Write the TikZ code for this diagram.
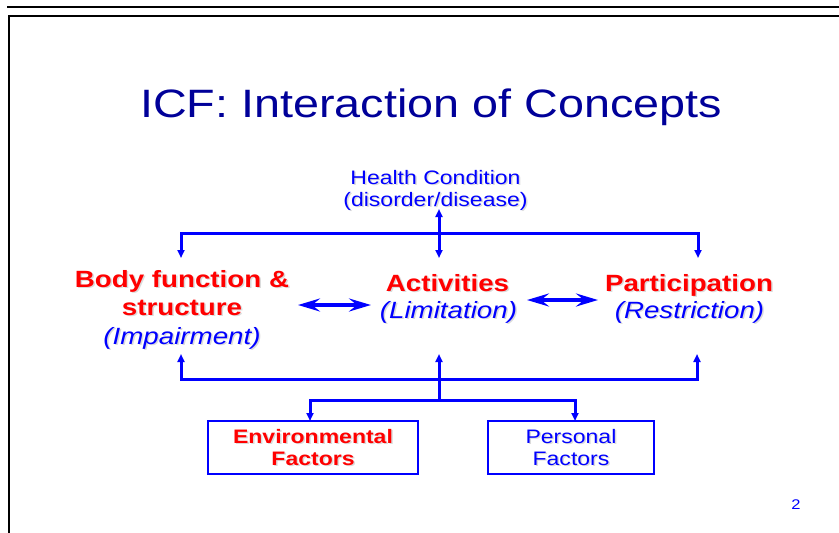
\documentclass[tikz,border=0pt]{standalone}
\usepackage{fontspec}
\setmainfont{Liberation Sans}[FakeStretch=1.18]
\usetikzlibrary{arrows.meta}

\definecolor{icfblue}{RGB}{0,0,255}
\definecolor{icfred}{RGB}{255,0,0}
\definecolor{icfnavy}{RGB}{0,0,153}
\colorlet{shade}{black!14}

% one line of text with a soft drop shadow, placed by its baseline
\newcommand\shline[4]{%
  \node[txt, #3, text=shade] (#1s) at ([shift={(1.5,1.5)}]#2) {#4};
  \node[txt, #3] (#1) at (#2) {#4};}

\begin{document}
\begin{tikzpicture}[x=1pt, y=-1pt,
  txt/.style={inner sep=0pt, anchor=base},
  hot/.style={text=icfred, font=\fontsize{23.5}{28}\selectfont\bfseries},
  hotsmall/.style={text=icfred, font=\fontsize{19.5}{23}\selectfont\bfseries},
  qual/.style={text=icfblue, font=\fontsize{23.5}{28}\selectfont\itshape},
  plain/.style={text=icfblue, font=\fontsize{19.5}{23}\selectfont},
  conn/.style={draw=icfblue, line width=3pt},
  tip/.style={-{Triangle[length=8pt,width=7pt]}},
  twotip/.style={{Triangle[length=8pt,width=7pt]}-{Triangle[length=8pt,width=7pt]}},
  link/.style={draw=icfblue, line width=3.5pt,
    {Stealth[length=22pt,width=13pt,inset=8pt]}-{Stealth[length=22pt,width=13pt,inset=8pt]}},
  factorbox/.style={draw=icfblue, line width=1.2pt, minimum height=53pt, inner sep=0pt}
]
\useasboundingbox (0,0) rectangle (839,533);

% slide frame
\draw[line width=2pt] (7,7) -- (839,7);
\draw[line width=2pt] (9,533) -- (9,16) -- (839,16);

% title
\node[txt, text=icfnavy, font=\fontsize{39.6}{44}\selectfont] (title) at (431,117)
  {ICF: Interaction of Concepts};

% health condition
\shline{hc1}{435.5,184}{plain}{Health Condition}
\shline{hc2}{435.5,206}{plain}{(disorder/disease)}

% the three components
\shline{body1}{182,287}{hot}{Body function \&}
\shline{body2}{182,315}{hot}{structure}
\shline{body3}{182,344}{qual}{(Impairment)}
\shline{act1}{447.5,291}{hot}{Activities}
\shline{act2}{448.5,318}{qual}{(Limitation)}
\shline{part1}{689,291}{hot}{Participation}
\shline{part2}{689.5,318}{qual}{(Restriction)}

% contextual factors
\node[factorbox, minimum width=210pt] (env) at (313,447.5) {};
\node[factorbox, minimum width=166pt] (pers) at (571,447.5) {};
\shline{env1}{313,443}{hotsmall}{Environmental}
\shline{env2}{313,465}{hotsmall}{Factors}
\shline{pers1}{571,443}{plain}{Personal}
\shline{pers2}{571,465}{plain}{Factors}

% page number
\node[txt, text=icfblue, font=\fontsize{14}{16}\selectfont] (pageno) at (796,509) {2};

% connector end points
\coordinate (hcTip) at (439,209);
\coordinate (barTop) at (439,233);
\coordinate (bodyIn) at (181,258);
\coordinate (actIn) at (439,258);
\coordinate (partIn) at (698,258);
\coordinate (bodyOut) at (181,354);
\coordinate (actOut) at (439,354);
\coordinate (partOut) at (697,354);
\coordinate (barBot) at (439,379);
\coordinate (fork) at (439,400);
\coordinate (envIn) at (310,421);
\coordinate (persIn) at (575,421);

% health condition to the components
\draw[conn, twotip] (hcTip) -- (actIn);
\draw[conn, tip] (barTop) -| (bodyIn);
\draw[conn, tip] (barTop) -| (partIn);

% factors to the components
\draw[conn, tip] (barBot) -| (bodyOut);
\draw[conn, tip] (barBot) -| (partOut);
\draw[conn, tip] (fork) -- (actOut);
\draw[conn, tip] (fork) -| (envIn);
\draw[conn, tip] (fork) -| (persIn);

% interactions between components
\coordinate (l1a) at (298,305);
\coordinate (l1b) at (371,305);
\coordinate (l2a) at (527,300);
\coordinate (l2b) at (598,300);
\draw[link] (l1a) -- (l1b);
\draw[link] (l2a) -- (l2b);
\end{tikzpicture}
\end{document}
